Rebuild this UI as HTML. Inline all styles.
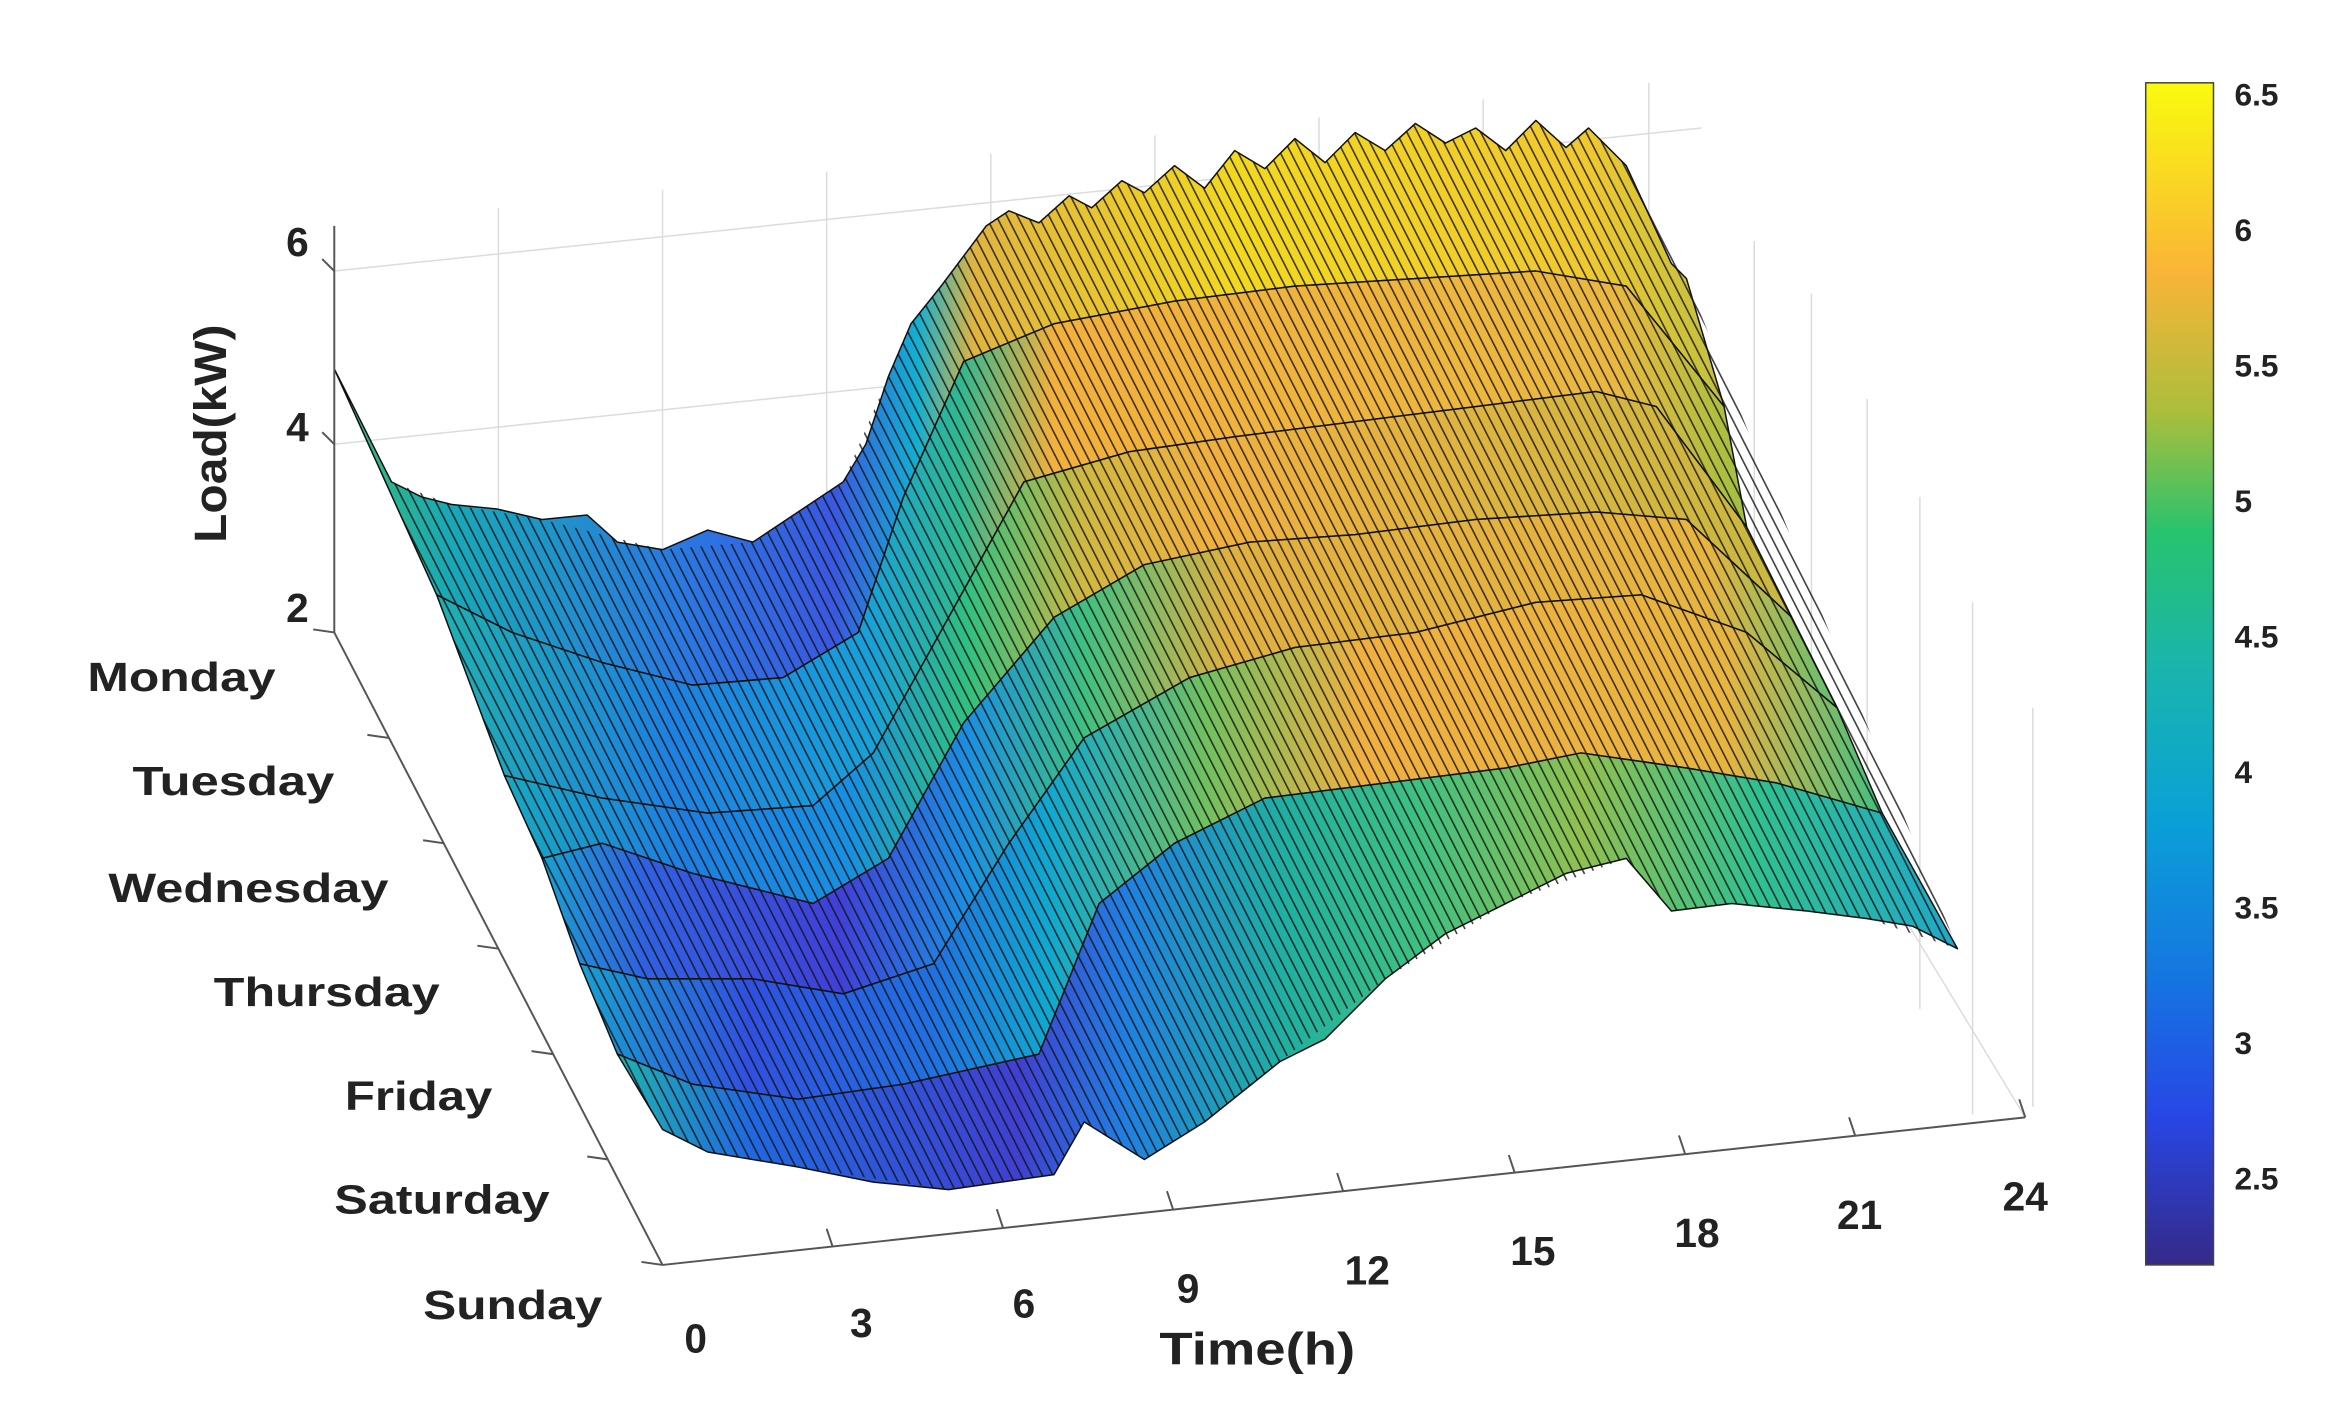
<!DOCTYPE html>
<html><head><meta charset="utf-8"><style>
html,body{margin:0;padding:0;background:#fff;}
svg{display:block;}
text{font-family:"Liberation Sans",Arial,sans-serif;font-weight:bold;fill:#222;}
</style></head><body>
<svg width="2349" height="1411" viewBox="0 0 1560 937" preserveAspectRatio="none" xmlns="http://www.w3.org/2000/svg">
<defs>
<linearGradient id="cb" x1="0" y1="1" x2="0" y2="0">
<stop offset="0" stop-color="rgb(53,42,135)"/>
<stop offset="0.125" stop-color="rgb(40,70,230)"/>
<stop offset="0.25" stop-color="rgb(20,120,225)"/>
<stop offset="0.375" stop-color="rgb(10,160,215)"/>
<stop offset="0.5" stop-color="rgb(25,180,175)"/>
<stop offset="0.62" stop-color="rgb(40,195,110)"/>
<stop offset="0.72" stop-color="rgb(170,190,60)"/>
<stop offset="0.84" stop-color="rgb(250,180,55)"/>
<stop offset="1" stop-color="rgb(249,251,14)"/>
</linearGradient>
<pattern id="st" width="7" height="20" patternUnits="userSpaceOnUse" patternTransform="skewX(27)">
<line x1="0.6" y1="0" x2="0.6" y2="20" stroke="#111" stroke-width="1.2" stroke-opacity="0.8"/>
</pattern>
<linearGradient id="g0" gradientUnits="userSpaceOnUse" x1="222" y1="0" x2="1145" y2="0">
<stop offset="0" stop-color="#3cbe6e"/><stop offset="0.085" stop-color="#18a8b8"/>
<stop offset="0.25" stop-color="#2a78e0"/><stop offset="0.36" stop-color="#3a58e0"/>
<stop offset="0.42" stop-color="#12b0d0"/><stop offset="0.46" stop-color="#e0b440"/>
<stop offset="0.65" stop-color="#f2d820"/><stop offset="0.9" stop-color="#f0c830"/><stop offset="1" stop-color="#c0c040"/>
</linearGradient>
<linearGradient id="g1" gradientUnits="userSpaceOnUse" x1="290" y1="0" x2="1160" y2="0">
<stop offset="0" stop-color="#20b0b0"/><stop offset="0.18" stop-color="#1e80e0"/>
<stop offset="0.33" stop-color="#18a0d8"/><stop offset="0.4" stop-color="#30b890"/>
<stop offset="0.47" stop-color="#f2b03c"/><stop offset="0.9" stop-color="#eab840"/><stop offset="1" stop-color="#a0c040"/>
</linearGradient>
<linearGradient id="g2" gradientUnits="userSpaceOnUse" x1="335" y1="0" x2="1190" y2="0">
<stop offset="0" stop-color="#18a8c0"/><stop offset="0.14" stop-color="#1e7ee0"/>
<stop offset="0.27" stop-color="#1890e0"/><stop offset="0.36" stop-color="#30c080"/>
<stop offset="0.45" stop-color="#d0b840"/><stop offset="0.55" stop-color="#f0b040"/><stop offset="1" stop-color="#c8b840"/>
</linearGradient>
<linearGradient id="g3" gradientUnits="userSpaceOnUse" x1="360" y1="0" x2="1220" y2="0">
<stop offset="0" stop-color="#1aa0d0"/><stop offset="0.08" stop-color="#3060e0"/>
<stop offset="0.23" stop-color="#4040d8"/><stop offset="0.33" stop-color="#1a90e0"/>
<stop offset="0.42" stop-color="#40c080"/><stop offset="0.53" stop-color="#e0b040"/><stop offset="0.9" stop-color="#e8b440"/><stop offset="1" stop-color="#60c070"/>
</linearGradient>
<linearGradient id="g4" gradientUnits="userSpaceOnUse" x1="385" y1="0" x2="1250" y2="0">
<stop offset="0" stop-color="#18a0d0"/><stop offset="0.13" stop-color="#3050e0"/>
<stop offset="0.27" stop-color="#2070e0"/><stop offset="0.36" stop-color="#10a8d0"/>
<stop offset="0.48" stop-color="#70c060"/><stop offset="0.6" stop-color="#f0b040"/><stop offset="0.88" stop-color="#e8b440"/><stop offset="1" stop-color="#40c080"/>
</linearGradient>
<linearGradient id="g5" gradientUnits="userSpaceOnUse" x1="410" y1="0" x2="1300" y2="0">
<stop offset="0" stop-color="#20b0b0"/><stop offset="0.1" stop-color="#2068e0"/>
<stop offset="0.3" stop-color="#4040d0"/><stop offset="0.38" stop-color="#2080e0"/>
<stop offset="0.5" stop-color="#20b0a0"/><stop offset="0.6" stop-color="#40c080"/>
<stop offset="0.72" stop-color="#90c050"/><stop offset="0.85" stop-color="#30c090"/><stop offset="1" stop-color="#20a8c8"/>
</linearGradient>
</defs>

<g stroke="#dcdcdc" stroke-width="1" fill="none">
<line x1="222" y1="180" x2="1130" y2="85"/>
<line x1="222" y1="295" x2="700" y2="245"/>
<line x1="331" y1="138" x2="331" y2="410"/>
<line x1="440" y1="126" x2="440" y2="400"/>
<line x1="549" y1="114" x2="549" y2="390"/>
<line x1="658" y1="102" x2="658" y2="378"/>
<line x1="767" y1="90" x2="767" y2="366"/>
<line x1="876" y1="78" x2="876" y2="354"/>
<line x1="985" y1="66" x2="985" y2="342"/>
<line x1="1095" y1="55" x2="1095" y2="330"/>
<line x1="1165" y1="160" x2="1165" y2="460"/>
<line x1="1203" y1="195" x2="1203" y2="530"/>
<line x1="1240" y1="265" x2="1240" y2="600"/>
<line x1="1275" y1="330" x2="1275" y2="670"/>
<line x1="1310" y1="400" x2="1310" y2="740"/>
<line x1="1350" y1="470" x2="1350" y2="735"/>
<line x1="1095" y1="330" x2="1345" y2="742"/>
</g>

<g stroke="#111" stroke-width="1" stroke-linejoin="round">
<polygon fill="url(#g0)" points="222,245 260,320 280,330 300,335 330,338 360,345 390,342 410,360 440,365 470,352 500,360 530,340 560,320 575,295 590,250 605,215 625,190 655,150 670,140 690,148 710,130 725,138 745,120 760,128 780,110 800,125 820,100 840,112 860,92 880,108 900,88 920,100 940,82 960,95 980,85 1000,100 1020,80 1040,98 1055,85 1080,110 1110,175 1120,185 1145,270 1080,190 1020,180 940,185 860,190 780,200 700,215 640,240 600,330 570,420 520,450 460,455 400,440 340,420 290,395"/>
<polygon fill="url(#g1)" points="290,395 340,420 400,440 460,455 520,450 570,420 600,330 640,240 700,215 780,200 860,190 940,185 1020,180 1080,190 1145,270 1160,350 1100,270 1060,260 980,270 900,280 820,290 750,300 680,320 630,410 580,500 540,535 470,540 400,530 335,515"/>
<polygon fill="url(#g2)" points="335,515 400,530 470,540 540,535 580,500 630,410 680,320 750,300 820,290 900,280 980,270 1060,260 1100,270 1160,350 1190,410 1120,345 1060,340 980,345 900,355 830,360 760,375 700,410 640,480 590,570 540,600 460,580 400,560 360,570"/>
<polygon fill="url(#g3)" points="360,570 400,560 460,580 540,600 590,570 640,480 700,410 760,375 830,360 900,355 980,345 1060,340 1120,345 1190,410 1220,470 1160,420 1090,395 1020,400 940,420 860,430 790,450 720,490 670,560 620,640 560,660 500,650 430,650 385,640"/>
<polygon fill="url(#g4)" points="385,640 430,650 500,650 560,660 620,640 670,560 720,490 790,450 860,430 940,420 1020,400 1090,395 1160,420 1220,470 1250,540 1180,520 1120,510 1050,500 1000,510 920,520 840,530 780,560 730,600 690,700 600,720 530,730 460,720 410,700"/>
<polygon fill="url(#g5)" points="410,700 460,720 530,730 600,720 690,700 730,600 780,560 840,530 920,520 1000,510 1050,500 1120,510 1180,520 1250,540 1300,630 1270,615 1240,610 1200,605 1150,600 1110,605 1080,570 1040,580 1000,600 960,620 920,650 880,690 850,705 800,745 760,770 720,745 700,780 630,790 580,785 530,775 470,765 440,750"/>
</g>
<g fill="url(#st)" stroke="none">
<polygon points="222,245 260,320 300,335 360,345 440,365 500,360 560,320 605,215 655,150 670,140 690,148 710,130 725,138 745,120 760,128 780,110 800,125 820,100 840,112 860,92 880,108 900,88 920,100 940,82 960,95 980,85 1000,100 1020,80 1040,98 1055,85 1080,110 1120,185 1300,630 1240,610 1150,600 1110,605 1080,570 1000,600 920,650 850,705 800,745 760,770 720,745 700,780 630,790 530,775 470,765 440,750 410,700 385,640 360,570 335,515 290,395"/>
</g>

<g stroke="#555" stroke-width="1.3" fill="none">
<line x1="222" y1="150" x2="222" y2="420"/>
<line x1="222" y1="420" x2="440" y2="840"/>
<line x1="440" y1="840" x2="1345" y2="742"/>
<line x1="222" y1="420" x2="208" y2="418"/>
<line x1="258" y1="490" x2="244" y2="488"/>
<line x1="295" y1="560" x2="281" y2="558"/>
<line x1="331" y1="630" x2="317" y2="628"/>
<line x1="367" y1="700" x2="353" y2="698"/>
<line x1="404" y1="770" x2="390" y2="768"/>
<line x1="440" y1="840" x2="426" y2="838"/>
<line x1="553" y1="828" x2="549" y2="816"/>
<line x1="666" y1="815" x2="662" y2="803"/>
<line x1="779" y1="803" x2="775" y2="791"/>
<line x1="892" y1="791" x2="888" y2="779"/>
<line x1="1006" y1="779" x2="1002" y2="767"/>
<line x1="1119" y1="766" x2="1115" y2="754"/>
<line x1="1232" y1="754" x2="1228" y2="742"/>
<line x1="1345" y1="742" x2="1341" y2="730"/>
<line x1="222" y1="180" x2="214" y2="172"/>
<line x1="222" y1="295" x2="214" y2="287"/>
</g>

<rect x="1425" y="55" width="45" height="785" fill="url(#cb)" stroke="#444" stroke-width="1"/>
<g font-size="21">
<text x="1484" y="70">6.5</text><text x="1484" y="160">6</text><text x="1484" y="250">5.5</text>
<text x="1484" y="340">5</text><text x="1484" y="430">4.5</text><text x="1484" y="520">4</text>
<text x="1484" y="610">3.5</text><text x="1484" y="700">3</text><text x="1484" y="790">2.5</text>
</g>
<g font-size="27">
<text x="835" y="906" text-anchor="middle" font-size="30" textLength="130" lengthAdjust="spacingAndGlyphs">Time(h)</text>
<text transform="translate(150,288) rotate(-90)" text-anchor="middle" font-size="30" textLength="145" lengthAdjust="spacingAndGlyphs">Load(kW)</text>
<text x="58" y="459" textLength="125" lengthAdjust="spacingAndGlyphs">Monday</text>
<text x="88" y="528" textLength="134" lengthAdjust="spacingAndGlyphs">Tuesday</text>
<text x="72" y="599" textLength="186" lengthAdjust="spacingAndGlyphs">Wednesday</text>
<text x="142" y="668" textLength="150" lengthAdjust="spacingAndGlyphs">Thursday</text>
<text x="229" y="737" textLength="98" lengthAdjust="spacingAndGlyphs">Friday</text>
<text x="222" y="806" textLength="143" lengthAdjust="spacingAndGlyphs">Saturday</text>
<text x="281" y="876" textLength="119" lengthAdjust="spacingAndGlyphs">Sunday</text>
<text x="462" y="898" text-anchor="middle">0</text><text x="572" y="888" text-anchor="middle">3</text>
<text x="680" y="875" text-anchor="middle">6</text><text x="789" y="865" text-anchor="middle">9</text>
<text x="908" y="853" text-anchor="middle">12</text><text x="1018" y="840" text-anchor="middle">15</text>
<text x="1127" y="828" text-anchor="middle">18</text><text x="1235" y="816" text-anchor="middle">21</text>
<text x="1345" y="804" text-anchor="middle">24</text>
<text x="205" y="170" text-anchor="end">6</text><text x="205" y="293" text-anchor="end">4</text><text x="205" y="413" text-anchor="end">2</text>
</g>
</svg>
</body></html>
